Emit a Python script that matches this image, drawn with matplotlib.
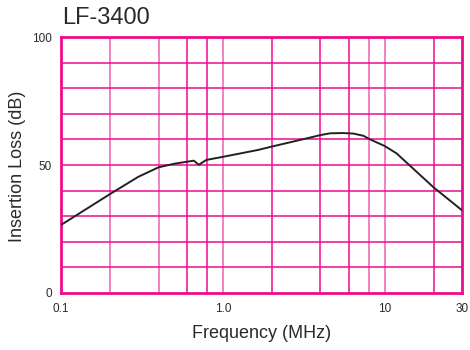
import numpy as np
import matplotlib
matplotlib.use("Agg")
import matplotlib.pyplot as plt

plt.rcParams["font.family"] = ["Liberation Sans", "DejaVu Sans"]

# curve (frequency in MHz, insertion loss in dB)
freq = [0.1, 0.2, 0.3, 0.4, 0.5, 0.6, 0.66, 0.71, 0.79, 1.0, 1.65, 2.0, 2.86, 4.0, 4.6, 5.5, 6.4, 7.4, 8.0, 10.0, 11.8, 20.0, 30.0]
loss = [26.6, 38.6, 45.4, 49.1, 50.5, 51.3, 51.7, 50.1, 52.0, 53.2, 55.9, 57.2, 59.5, 61.7, 62.4, 62.5, 62.3, 61.4, 60.2, 57.4, 54.6, 41.3, 32.3]

xticks = [0.1, 1.0, 10, 30]
xticklabels = ["0.1", "1.0", "10", "30"]
yticks = [0, 50, 100]
grid_dark = [0.6, 0.8, 2, 4, 6, 20]
grid_light = [0.2, 0.4, 1.0, 8, 10]

pink = "#ec0c8e"
light_pink = "#f26bb6"
text_col = "#2a2a2a"

fig = plt.figure(figsize=(4.7, 3.5), dpi=100)
ax = fig.add_axes([0.130, 0.163, 0.853, 0.731])

ax.set_xscale("log")
ax.set_xlim(0.1, 30)
ax.set_ylim(0, 100)

for x in grid_dark:
    ax.axvline(x, color=pink, lw=1.1, zorder=1)
for x in grid_light:
    ax.axvline(x, color=light_pink, lw=1.2, zorder=1)
for y in range(10, 100, 10):
    ax.axhline(y, color=pink, lw=1.1, zorder=1)

ax.plot(freq, loss, color="#222222", lw=1.4, zorder=3)

for s in ax.spines.values():
    s.set_color(pink)
    s.set_linewidth(2.0)

ax.set_xticks(xticks)
ax.set_xticklabels(xticklabels)
ax.xaxis.set_minor_locator(matplotlib.ticker.NullLocator())
ax.set_yticks(yticks)
ax.tick_params(length=0, labelsize=8.5, colors=text_col)
ax.tick_params(axis="y", pad=6.5)
ax.tick_params(axis="x", pad=7)

fig.text(0.556, 1 - 334 / 350, "Frequency (MHz)", fontsize=13, color=text_col, ha="center", va="center")
fig.text(17.5 / 470, 1 - 166.5 / 350, "Insertion Loss (dB)", fontsize=13, color=text_col,
         ha="center", va="center", rotation=90)
fig.text(0.132, 0.948, "LF-3400", fontsize=17, color=text_col, va="center", ha="left")

fig.savefig("out.png", dpi=100)
